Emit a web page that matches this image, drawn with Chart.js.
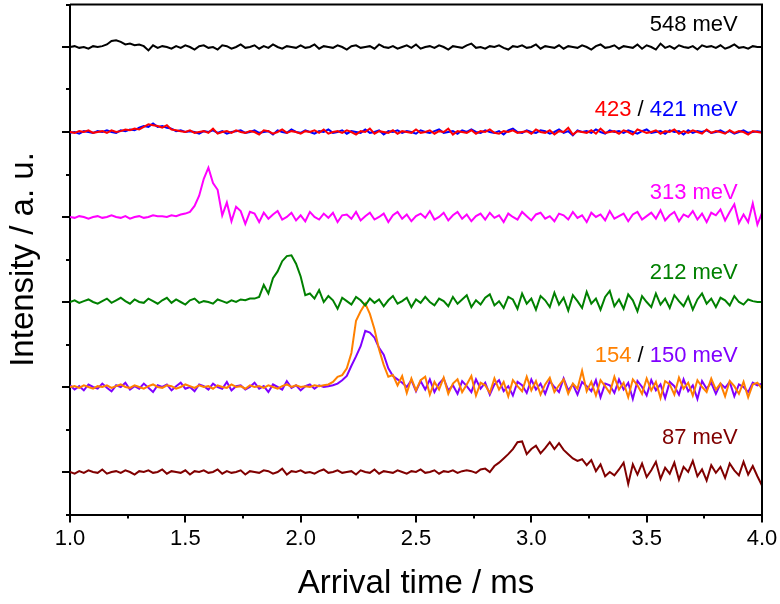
<!DOCTYPE html>
<html>
<head>
<meta charset="utf-8">
<script src="https://cdn.jsdelivr.net/npm/chart.js@4.4.1/dist/chart.umd.min.js"></script>
<style>
  html, body { margin: 0; padding: 0; background: #ffffff; }
  #arrivalChart { display: block; }
</style>
</head>
<body>
<canvas id="arrivalChart" width="780" height="604"></canvas>
<script>
  // Arrival time sampling (ms)
  const tStart = 1.0;
  const tStep = 0.02;

  // Vertical offset of each trace (a. u.)
  const offsets = [500, 400, 400, 300, 200, 100, 100, 0];

  const trace548 = [
    0, 1, -1, 0, -2, 1, 0, 1, 3, 7,
    8, 6, 3, 4, 2, 3, 1, -4, 2, -1,
    1, 0, -2, 1, -1, 2, 0, -3, 1, 2,
    -1, 0, -3, 2, 1, -2, 0, 3, -1, 0,
    2, -2, 1, -1, 3, 0, -2, 1, 0, -1,
    2, -1, 0, 3, -2, 1, 0, -1, 2, 0,
    -3, 1, 2, -1, 0, 1, -2, 3, 0, -1,
    1, -2, 0, 2, -1, 3, -2, 0, 1, -1,
    2, 0, -3, 1, 0, -1, 2, 4, -1, 0,
    -2, 1, 0, 2, -1, -3, 1, 0, 2, -1,
    0, 3, -2, 1, 0, -1, 2, -2, 1, 0,
    -1, 2, 0, -3, 1, 3, -1, 0, 2, -2,
    1, 0, -1, 3, -2, 2, 0, -3, 4, -1,
    1, -2, 2, 0, -1, 1, -3, 2, 0, 1,
    -1, 2, -2, 0, 3, -1, 0, -2, 1, 0,
    0,
  ];

  const trace423 = [
    0, -1, 1, 0, 2, -1, 0, 1, -1, 2,
    0, 1, 3, 2, 4, 3, 6, 9, 8, 7,
    5, 8, 3, 2, 1, 0, 2, -1, 0, 1,
    -1, 4, -2, 0, 1, -1, 2, 0, -1, 1,
    0, -3, 2, 1, -2, 0, 3, -1, 1, 0,
    -2, 1, 0, 2, -1, 3, -2, 0, 1, -1,
    2, 0, -3, 1, 0, 4, -2, 1, 0, -1,
    2, -2, 1, 0, -1, 3, -1, 0, 2, -2,
    1, 0, 4, -3, 1, 0, -1, 2, -2, 1,
    0, 3, -1, -2, 1, 0, 2, -1, 0, 1,
    -2, 3, 0, -1, 2, -3, 1, 0, 5, -3,
    1, 0, -1, 2, -2, 4, -1, 0, 1, -2,
    2, 0, -3, 3, 1, -1, 0, 2, -2, 1,
    0, 3, -2, 1, -1, 2, 0, -2, 3, -1,
    1, 0, -2, 2, -1, 1, 0, -3, 1, 0,
    -1,
  ];

  const trace421 = [
    -1, 0, -2, 1, 0, -1, 1, 0, 2, 0,
    -1, 2, 1, 3, 2, 5, 7, 6, 10, 6,
    7, 5, 4, 1, 2, 0, 1, 0, -2, 1,
    0, 2, -1, 1, -2, 0, 1, 2, -1, 0,
    2, -1, 0, 1, -3, 2, 0, -1, 3, 0,
    -1, 2, 0, -2, 1, 0, 3, -1, 0, 2,
    -2, 1, 0, -1, 3, -1, 0, 2, -3, 1,
    0, 2, -1, 1, 0, -2, 2, 0, -1, 1,
    3, -1, 0, 1, -2, 2, 0, 3, 0, -1,
    2, 0, -1, 1, -3, 2, 4, 0, -1, 2,
    0, -1, 2, 1, -2, 0, 3, -1, 1, -4,
    2, 0, 1, -1, 3, 0, -2, 2, 0, 1,
    -1, 2, 0, -2, 1, 3, -1, 0, 1, -2,
    2, 0, 1, -3, 2, -1, 1, 0, 2, -1,
    0, 2, -1, 1, -2, 0, 2, -1, 0, 1,
    0,
  ];

  const trace313 = [
    0, -1, 1, 0, -2, 0, 1, -1, 0, 2,
    0, -1, 1, -2, 0, 1, -1, 0, 2, 1,
    1, 0, 2, 1, 3, 4, 6, 13, 25, 45,
    58, 40, 32, 2, 17, -5, 12, 7, -8, 6,
    4, -6, 5, -2, 3, 7, -3, 0, 5, -4,
    2, -5, 6, 0, -3, 4, -1, 5, -6, 2,
    3, -2, 6, -4, 1, 5, -3, 0, 4, -6,
    2, 6, -2, 3, -5, 1, 4, -1, 7, -3,
    0, 5, -4, 2, 6, -2, 3, -5, 1, 4,
    -3, 5, -1, 2, -6, 4, 0, -3, 6, 1,
    -4, 3, 5, -2, 1, -5, 4, 2, -3, 6,
    -1, 2, -6, 5, 0, 3, -4, 7, -2, 1,
    4, -5, 3, 6, -3, 1, 5, -2, 8, -4,
    2, 6, -5, 3, 0, 7, -3, 4, -6, 5,
    2, 9, -4, 6, 15, -7, 3, -6, 16, -9,
    5,
  ];

  const trace212 = [
    0, 2, -1, 1, 3, 0, -2, 1, 4, -1,
    2, 5, 1, -2, 3, 0, -1, 4, 1, -2,
    2, 5, -1, 3, 0, -3, 2, 4, -1, 1,
    0, -2, 3, 1, -1, 2, 0, 3, 2, 4,
    4, 6, 20, 10, 28, 36, 48, 54, 55, 45,
    30, 8, 10, 4, 14, 0, 7, 2, -8, 5,
    1, -3, 6, 2, -4, 4, -1, 3, -5, 2,
    7, -2, 1, 5, -6, 3, -1, 6, 0, -4,
    4, 1, -5, 6, -2, 3, 8, -6, 2, -3,
    5, 9, -4, 1, -7, 6, 3, -8, 10, -2,
    4, -9, 7, 2, -6, 11, -3, 5, -10, 8,
    1, -7, 12, -2, 4, -9, 6, 13, -5, 3,
    -8, 9, 2, -11, 7, 0, -6, 10, -3, 4,
    -7, 8, 1, -5, 6, -9, 3, 10, -2, 4,
    -6, 5, 2, -4, 7, 0, -3, 3, 1, 0,
    0,
  ];

  const trace154 = [
    0, 1, -1, 2, 0, -2, 1, 0, 2, -1,
    1, 3, 0, -1, 2, 0, -2, 1, 3, 0,
    -1, 2, 1, -2, 0, 3, 1, -1, 2, 0,
    1, -2, 2, 0, -1, 3, 0, 1, -2, 2,
    0, 1, -1, 2, 0, -2, 1, 3, 0, 2,
    0, 1, 0, 2, 1, 2, 3, 6, 12, 14,
    22, 40, 78, 89, 98, 86, 68, 44, 26, 12,
    14, 2, 13, -7, 10, -4, 8, 12, -9, 6,
    -3, 11, -8, 4, 9, -6, 3, 13, -10, 5,
    2, -7, 10, -3, 6, -11, 8, 1, -5, 12,
    -4, 7, -9, 3, 11, -6, 2, 9, -8, 4,
    -2, 19, -5, 6, -10, 8, 1, -7, 12, -3,
    5, -12, 9, 2, -8, 10, -4, 6, -13, 7,
    3, -9, 11, -2, 5, -10, 8, 0, -6, 10,
    -3, 4, -11, 7, 1, -8, 6, -12, 3, 5,
    -2,
  ];

  const trace150 = [
    2, -3, 1, -4, 3, 0, -2, 4, -1, -5,
    2, 0, 5, -3, 1, -2, 4, -1, -6, 2,
    0, 3, -4, 1, 5, -2, 0, -5, 3, 1,
    -3, 4, 0, -2, 6, -4, 1, 2, -3, 0,
    5, -2, 1, -6, 3, 0, -3, 7, -1, 2,
    -4, 1, 3, -2, 2, 0, 1, 2, 4, 8,
    13, 25, 36, 48, 66, 64, 58, 46, 38, 22,
    13, 9, 5, 0, 8, -5, 7, -3, 9, -6,
    4, 10, -4, 2, -8, 7, 1, -6, 9, -2,
    5, -9, 3, 8, -5, 1, -10, 6, 2, -7,
    9, -3, 4, -8, 7, 0, -6, 10, -4, 3,
    -9, 6, 1, -5, 8, -12, 4, 2, -7, 9,
    -3, 5, -14, 7, 0, -10, 8, -4, 3, -13,
    6, 1, -9, 9, -5, 2, -14, 7, -2, 5,
    -8, 4, -1, 6, -11, 3, 0, -6, 5, 2,
    4,
  ];

  const trace87 = [
    0, -2, 1, -1, 2, 0, -1, 3, -2, 0,
    1, -1, 2, 0, -3, 1, 0, 2, -1, 0,
    3, -2, 1, 0, -1, 2, -3, 1, 0, 2,
    -1, 0, 3, -2, 1, -1, 0, 2, -3, 1,
    0, -1, 2, 1, -2, 0, 4, -3, 1, 0,
    2, -1, 0, -2, 1, 3, -1, 0, 2, -1,
    0, 1, -3, 2, 0, -1, 3, -2, 1, 0,
    -1, 2, 0, -2, 1, 0, 3, -1, 0, 2,
    -2, 1, 0, 2, -1, 1, 2, 1, -1, 3,
    4, 0, 7, 11, 16, 21, 27, 35, 36, 21,
    27, 31, 22, 28, 35, 27, 34, 26, 21, 16,
    13, 15, 8, 14, 1, 9, -5, 0, -4, 3,
    11, -14, 9, -3, 10, -6, 2, 12, -8, 5,
    -2, 11, -9, 6, 0, 13, -5, 3, -10, 8,
    -1, 6, -7, 10, 2, -4, 12, -3, 7, -5,
    -16,
  ];

  const traces = [trace548, trace423, trace421, trace313, trace212, trace154, trace150, trace87];
  const traceColors = ["#000000", "#FF0000", "#0000FF", "#FF00FF", "#008000", "#FF8000", "#8000FF", "#800000"];

  const times = trace548.map((_, i) => +(tStart + i * tStep).toFixed(3));

  const fontFamily = "'Liberation Sans', Arial, sans-serif";

  // Energy labels, each sitting just above its trace
  const energyLabels = [
    { offset: 500, parts: [["548 meV", "#000000"]] },
    { offset: 400, parts: [["423", "#FF0000"], [" / ", "#000000"], ["421 meV", "#0000FF"]] },
    { offset: 300, parts: [["313 meV", "#FF00FF"]] },
    { offset: 200, parts: [["212 meV", "#008000"]] },
    { offset: 100, parts: [["154", "#FF8000"], [" / ", "#000000"], ["150 meV", "#8000FF"]] },
    { offset: 0, parts: [["87 meV", "#800000"]] },
  ];
  const labelLift = [26, 26, 28, 34, 36, 40];

  function buildDataset(values, index) {
    return {
      data: values.map((v, i) => ({ x: times[i], y: v + offsets[index] })),
      borderColor: traceColors[index],
      borderWidth: 2,
      pointRadius: 0,
      tension: 0,
      order: index,
    };
  }

  // Outward tick marks (major + minor) and the closing frame
  Chart.register({
    id: "frameTicks",
    afterDraw(chart) {
      const { ctx, chartArea, scales } = chart;
      const xs = scales.x;
      const ys = scales.y;
      ctx.save();
      ctx.strokeStyle = "#000000";
      ctx.lineWidth = 2;
      ctx.beginPath();
      for (let k = 0; k <= 12; k++) {
        const v = 1 + k * 0.25;
        const px = Math.round(xs.getPixelForValue(v));
        const len = k % 2 === 0 ? 8 : 4;
        ctx.moveTo(px, chartArea.bottom);
        ctx.lineTo(px, chartArea.bottom + len);
      }
      for (let k = 0; k <= 12; k++) {
        const v = -50 + k * 50;
        const py = Math.round(ys.getPixelForValue(v));
        const len = k % 2 === 1 ? 8 : 4;
        ctx.moveTo(chartArea.left, py);
        ctx.lineTo(chartArea.left - len, py);
      }
      ctx.moveTo(chartArea.left, chartArea.top);
      ctx.lineTo(chartArea.right, chartArea.top);
      ctx.lineTo(chartArea.right, chartArea.bottom);
      ctx.stroke();
      ctx.restore();
    },
  });

  Chart.register({
    id: "energyLabels",
    afterDatasetsDraw(chart) {
      const { ctx, scales } = chart;
      ctx.save();
      ctx.font = `22px ${fontFamily}`;
      ctx.textBaseline = "middle";
      ctx.textAlign = "left";
      energyLabels.forEach((lab, i) => {
        const y = scales.y.getPixelForValue(lab.offset + labelLift[i]);
        let x = scales.x.getPixelForValue(3.895);
        for (let p = lab.parts.length - 1; p >= 0; p--) {
          const [text, color] = lab.parts[p];
          x -= ctx.measureText(text).width;
          ctx.fillStyle = color;
          ctx.fillText(text, x, y);
        }
      });
      ctx.restore();
    },
  });

  const ctx = document.getElementById("arrivalChart").getContext("2d");
  new Chart(ctx, {
    type: "line",
    data: { datasets: traces.map(buildDataset) },
    options: {
      responsive: false,
      animation: false,
      devicePixelRatio: 1,
      layout: { padding: { top: 4.5, right: 18, left: 0, bottom: 0 } },
      plugins: { legend: { display: false }, tooltip: { enabled: false } },
      scales: {
        x: {
          type: "linear",
          min: 1,
          max: 4,
          border: { display: true, color: "#000000", width: 2 },
          grid: { display: true, drawOnChartArea: false, drawTicks: false },
          ticks: {
            stepSize: 0.5,
            padding: 13.5,
            color: "#000000",
            font: { family: fontFamily, size: 22, lineHeight: 1 },
            maxRotation: 0,
            callback: (v) => Number(v).toFixed(1),
          },
          title: {
            display: true,
            text: "Arrival time / ms",
            color: "#000000",
            font: { family: fontFamily, size: 33, lineHeight: 1 },
            padding: { top: 14, bottom: 4 },
          },
          afterFit(scale) {
            scale.height = 89.5;
            scale.paddingLeft = 0;
            scale.paddingRight = 0;
          },
        },
        y: {
          type: "linear",
          min: -50,
          max: 550,
          border: { display: true, color: "#000000", width: 2 },
          grid: { display: true, drawOnChartArea: false, drawTicks: false },
          ticks: { display: false, stepSize: 50 },
          title: {
            display: true,
            text: "Intensity / a. u.",
            color: "#000000",
            font: { family: fontFamily, size: 33, lineHeight: 1 },
            padding: { top: 7.5, bottom: 29.5 },
          },
          afterFit(scale) {
            scale.width = 70;
            scale.paddingTop = 0;
            scale.paddingBottom = 0;
          },
        },
      },
    },
  });
</script>
</body>
</html>
